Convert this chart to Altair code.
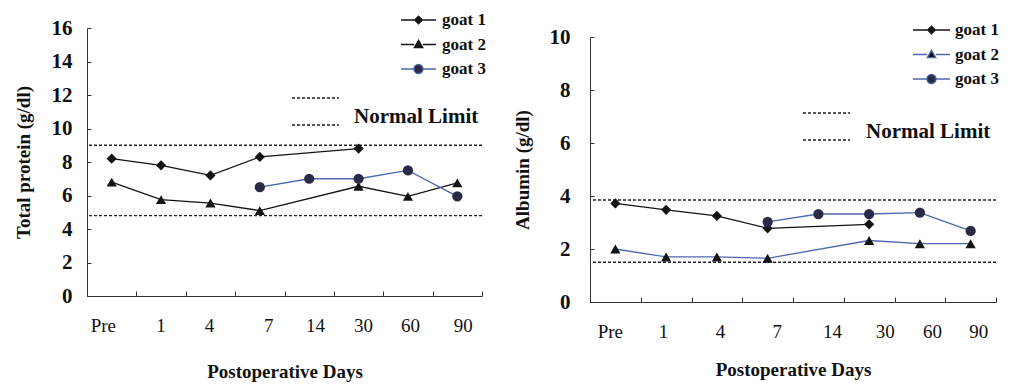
import json
import altair as alt
import pandas as pd

# ---------------- data ----------------
days = ["Pre", "1", "4", "7", "14", "30", "60", "90"]
series = ["goat 1", "goat 2", "goat 3"]

goat1_days = ["Pre", "1", "4", "7", "30"]
goat2_days = ["Pre", "1", "4", "7", "30", "60", "90"]
goat3_days = ["7", "14", "30", "60", "90"]

# Total protein (g/dl)
tp_goat1 = [8.2, 7.8, 7.2, 8.3, 8.8]
tp_goat2 = [6.8, 5.75, 5.55, 5.1, 6.55, 5.95, 6.75]
tp_goat3 = [6.5, 7.0, 7.0, 7.5, 5.95]
tp_limits = [4.8, 9.0]
# where each day label sits along the axis (in day-slot units)
tp_label_pos = [0.32, 1.49, 2.47, 3.67, 4.62, 5.59, 6.54, 7.61]

# Albumin (g/dl)
alb_goat1 = [3.72, 3.48, 3.25, 2.78, 2.93]
alb_goat2 = [2.0, 1.7, 1.7, 1.65, 2.32, 2.2, 2.2]
alb_goat3 = [3.02, 3.32, 3.32, 3.37, 2.68]
alb_limits = [1.5, 3.85]
alb_label_pos = [0.39, 1.44, 2.56, 3.68, 4.77, 5.81, 6.74, 7.65]

limit_label = "Normal Limit"

# ---------------- style ----------------
SERIF = "Liberation Serif"
INK = "#141414"
BLUE = "#4f68b0"
NAVY = "#2b2b48"
MARKER_SHAPES = ["diamond", "triangle-up", "circle"]
MARKER_FILLS = [INK, INK, NAVY]

LEG_R = 8.5    # half of sqrt(symbolSize) for goat legend
LIM_R = 10.0   # half of sqrt(symbolSize) for limit legend


def goat_paths(half_len):
    L = half_len / LEG_R
    d, t, c = 3.8 / LEG_R, 4.3 / LEG_R, 4.6 / LEG_R
    f = lambda v: f"{v:.3f}"
    return [
        f"M-{f(L)},0L-{f(d)},0M{f(d)},0L{f(L)},0M-{f(d)},0L0,-{f(d)}L{f(d)},0L0,{f(d)}Z",
        f"M-{f(L)},0L-{f(t)},0M{f(t)},0L{f(L)},0M-{f(t)},{f(t*0.75)}L0,-{f(t)}L{f(t)},{f(t*0.75)}Z",
        f"M-{f(L)},0L-{f(c)},0M{f(c)},0L{f(L)},0M-{f(c)},0A{f(c)},{f(c)} 0 1,0 {f(c)},0A{f(c)},{f(c)} 0 1,0 -{f(c)},0Z",
    ]


def limit_path(half_len):
    L = half_len / LIM_R
    return f"M-{L:.3f},-1.9L{L:.3f},-1.9M-{L:.3f},0.8L{L:.3f},0.8"


def make_df(v1, v2, v3):
    rows = []
    for name, dlist, vals in zip(series, [goat1_days, goat2_days, goat3_days], [v1, v2, v3]):
        for d, v in zip(dlist, vals):
            rows.append({"series": name, "day": d, "pos": days.index(d) + 0.5, "value": v})
    return pd.DataFrame(rows)


label_expr = json.dumps(days) + "[floor(datum.value)]"

RES = dict(color="independent", fill="independent", stroke="independent",
           shape="independent", strokeDash="independent")


def panel(df, limits, label_pos, ymax, ytitle, width, height, line_colors,
          leg_x, leg_y, sym_half, lim_x, lim_y, lim_half, lim_label_off,
          y_label_pad, y_title_pad, x_label_pad, x_title_pad):
    xscale = alt.Scale(domain=[0, len(days)], nice=False, zero=False)
    # axis 1: domain line and inward ticks between the day slots
    x_ticks = alt.X(
        "pos:Q", scale=xscale,
        axis=alt.Axis(
            orient="bottom", values=list(range(len(days) + 1)), labels=False, grid=False,
            tickSize={"expr": "-5"}, tickColor="#333", domainColor="#333", title=None,
        ),
    )
    # axis 2: the day labels and the axis title
    x_labels = alt.X(
        "pos:Q", scale=xscale,
        axis=alt.Axis(
            orient="bottom", values=label_pos, labelExpr=label_expr,
            domain=False, ticks=False, tickSize=0, grid=False,
            labelFlush=False, labelBound=False, labelOverlap=False,
            labelFont=SERIF, labelFontSize=19, labelFontWeight="normal", labelColor="#111",
            labelPadding=x_label_pad,
            title="Postoperative Days", titleFont=SERIF, titleFontSize=19,
            titleFontWeight="bold", titleColor="#111", titlePadding=x_title_pad,
        ),
    )
    yenc = alt.Y(
        "value:Q",
        scale=alt.Scale(domain=[0, ymax], nice=False),
        axis=alt.Axis(
            values=list(range(0, ymax + 1, 2)), tickSize={"expr": "-4"}, labelOverlap=False,
            tickColor="#333", domainColor="#333", grid=False,
            labelFont=SERIF, labelFontSize=21, labelFontWeight="bold", labelColor="#111",
            labelPadding=y_label_pad,
            title=ytitle, titleFont=SERIF, titleFontSize=19, titleFontWeight="bold",
            titleColor="#111", titlePadding=y_title_pad,
        ),
    )
    x_plain = alt.X("pos:Q", scale=xscale, axis=None)

    lines = alt.Chart(df).mark_line(strokeWidth=1.3).encode(
        x=x_ticks, y=yenc,
        color=alt.Color("series:N", scale=alt.Scale(domain=series, range=line_colors), legend=None),
    )
    points = alt.Chart(df).mark_point(filled=True, size=105, opacity=1).encode(
        x=x_labels, y=yenc,
        shape=alt.Shape("series:N", scale=alt.Scale(domain=series, range=MARKER_SHAPES), legend=None),
        fill=alt.Fill("series:N", scale=alt.Scale(domain=series, range=MARKER_FILLS), legend=None),
    )

    goat_legend = alt.Legend(
        title=None, orient="none", legendX=leg_x, legendY=leg_y, padding=0, offset=0,
        symbolSize=(2 * LEG_R) ** 2, symbolStrokeWidth=1.3, labelOffset=14,
        labelFont=SERIF, labelFontSize=17, labelFontWeight="bold", labelColor="#111",
        rowPadding=6.5,
    )
    legend_layer = alt.Chart(df).mark_point(filled=True, opacity=1).encode(
        x=x_plain, y=yenc,
        shape=alt.Shape("series:N", scale=alt.Scale(domain=series, range=goat_paths(sym_half)),
                        legend=goat_legend),
        stroke=alt.Stroke("series:N", scale=alt.Scale(domain=series, range=line_colors),
                          legend=goat_legend),
        color=alt.Color("series:N", scale=alt.Scale(domain=series, range=MARKER_FILLS),
                        legend=goat_legend),
    ).transform_filter("false")

    lim_df = pd.DataFrame({"value": limits, "kind": [limit_label] * len(limits)})
    rules = alt.Chart(lim_df).mark_rule(strokeWidth=1.3, color="#222").encode(
        y=yenc,
        strokeDash=alt.StrokeDash(
            "kind:N",
            scale=alt.Scale(domain=[limit_label], range=[[3, 2]]),
            legend=alt.Legend(
                title=None, orient="none", legendX=lim_x, legendY=lim_y, padding=0, offset=0,
                symbolType=limit_path(lim_half), symbolSize=(2 * LIM_R) ** 2, symbolDash=[5, 3],
                symbolStrokeColor="#222", symbolStrokeWidth=1.3, labelOffset=lim_label_off,
                labelFont=SERIF, labelFontSize=21, labelFontWeight="bold", labelColor="#111",
            ),
        ),
    )

    return alt.layer(rules, lines, points, legend_layer).resolve_scale(
        color="independent", fill="independent", stroke="independent", shape="independent"
    ).resolve_axis(x="independent").properties(width=width, height=height)


left = panel(make_df(tp_goat1, tp_goat2, tp_goat3), tp_limits, tp_label_pos, 16,
             "Total protein  (g/dl)", 395, 268, [INK, INK, BLUE],
             leg_x=322, leg_y=-17.5, sym_half=17.5,
             lim_x=217.5, lim_y=78, lim_half=23.5, lim_label_off=27.5,
             y_label_pad=19, y_title_pad=18, x_label_pad=20.5, x_title_pad=27)
right = panel(make_df(alb_goat1, alb_goat2, alb_goat3), alb_limits, alb_label_pos, 10,
              "Albumin (g/dl)", 406, 265, [INK, BLUE, BLUE],
              leg_x=332, leg_y=-16.5, sym_half=18.5,
              lim_x=225.5, lim_y=84, lim_half=23.5, lim_label_off=28.5,
              y_label_pad=24, y_title_pad=17, x_label_pad=20.5, x_title_pad=19)

# an invisible spacer pushes the right panel's plot area a little lower
spacer = alt.Chart(pd.DataFrame({"s": [0]})).mark_point(opacity=0).encode(
    x=alt.X("s:Q", axis=None), y=alt.Y("s:Q", axis=None)
).properties(width=10, height=9)

right_col = alt.vconcat(spacer, right, spacing=0, bounds="flush").resolve_scale(**RES).resolve_legend(**RES)

chart = alt.hconcat(left, right_col, spacing=27).resolve_scale(**RES).resolve_legend(**RES).properties(
    autosize=alt.AutoSizeParams(type="none"),
    padding={"left": 79, "top": 20, "right": 925, "bottom": 356},
    background="white",
).configure_view(stroke=None)

chart.save("out.html", embed_options={"renderer": "svg", "actions": False})
